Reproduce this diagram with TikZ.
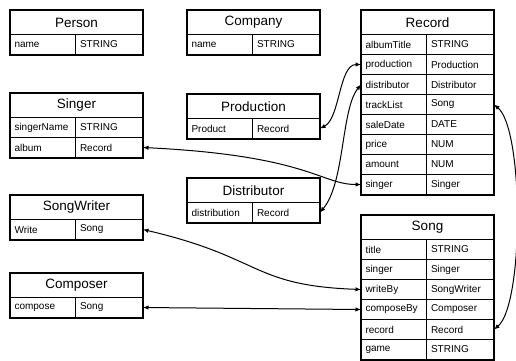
\documentclass[tikz,border=0pt]{standalone}
\usepackage{fontspec}
\setmainfont{Liberation Sans}
\usetikzlibrary{arrows.meta,calc}
\tikzset{
  etitle/.style={
    draw, line width=1pt, anchor=north west, inner sep=0pt,
    minimum width=132pt, minimum height=24pt, font=\fontsize{13.5}{13.5}\selectfont
  },
  keycell/.style={
    draw, line width=1pt, anchor=north west, inner sep=0pt,
    minimum width=65pt, minimum height=20pt, text width=57pt, align=left,
    font=\fontsize{10}{10}\selectfont
  },
  typecell/.style={keycell, minimum width=67pt, text width=58pt},
  frame/.style={line width=1.6pt},
  link/.style={{Latex[length=5.5pt,width=4.5pt]}-{Latex[length=5.5pt,width=4.5pt]}, line width=1pt}
}
% #1 name, #2/#3 top left corner, #4 title, #5 rows key/type
\newcommand{\entity}[5]{%
  \node[etitle] (#1) at (#2,#3) {#4};
  \foreach \k/\t [count=\i] in {#5} {
    \node[keycell] (#1-\i-k) at (#2,{#3+24+(\i-1)*20}) {\k};
    \node[typecell] (#1-\i-t) at ({#2+65},{#3+24+(\i-1)*20}) {\t};
    \xdef\lastrow{\i}
  }
  \draw[frame] (#1.north west) rectangle (#1-\lastrow-t.south east);
}

\begin{document}
\begin{tikzpicture}[x=1pt,y=-1pt]
  \useasboundingbox (0,0) rectangle (516,360);

  \entity{person}{10}{10}{Person}{name/STRING}
  \entity{company}{187}{10}{Company}{name/STRING}
  \entity{singer}{10}{93}{Singer}{singerName/STRING, album/Record}
  \entity{prod}{187}{94}{Production}{Product/Record}
  \entity{dist}{187}{178}{Distributor}{distribution/Record}
  \entity{writer}{10}{195}{SongWriter}{Write/Song}
  \entity{composer}{10}{273}{Composer}{compose/Song}
  \entity{rec}{361}{10}{Record}{albumTitle/STRING, production/Production,
    distributor/Distributor, trackList/Song, saleDate/DATE, price/NUM,
    amount/NUM, singer/Singer}
  \entity{song}{361}{215}{Song}{title/STRING, singer/Singer,
    writeBy/SongWriter, composeBy/Composer, record/Record, game/STRING}

  % references between the tables
  \draw[link] (prod-1-t.east) .. controls +(20,-10) and +(-22,0) .. (rec-2-k.west);
  \draw[link] (dist-1-t.east) .. controls +(25,-30) and +(-20,25) .. (rec-3-k.west);
  \draw[link] (singer-2-t.east) .. controls +(165,8) and +(-40,0) .. (rec-8-k.west);
  \draw[link] (writer-1-t.east) .. controls +(120,28) and +(-110,-4) .. (song-3-k.west);
  \draw[link] (composer-1-t.east) -- (song-4-k.west);
  \draw[link] (rec-4-t.east) .. controls +(30,25) and +(30,-25) .. (song-5-t.east);
\end{tikzpicture}
\end{document}
